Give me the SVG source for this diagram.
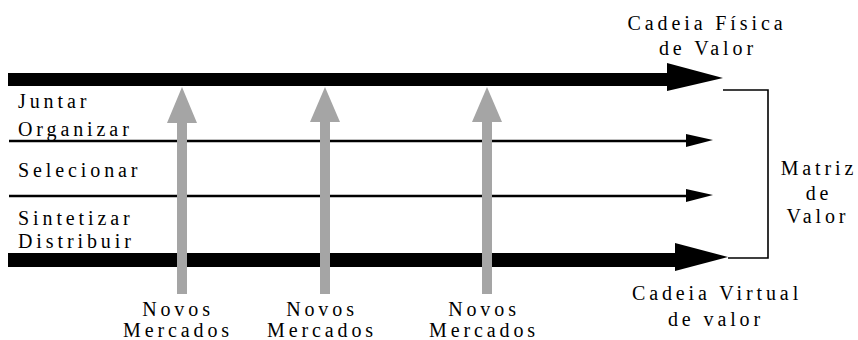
<svg xmlns="http://www.w3.org/2000/svg" width="858" height="340" viewBox="0 0 858 340">
<style>
.t{font-family:'Liberation Serif','Times New Roman',Times,serif;font-size:20px;letter-spacing:3.9px;fill:#000}
.c{text-anchor:middle}
.thick{fill:#000}
.thin{stroke:#000;stroke-width:2.6;fill:none}
.head{fill:#000}
.up{fill:#a5a5a5}
.br{stroke:#000;stroke-width:1.6;fill:none}
</style>
<g id="connectors">
  <g id="fisica-arrow">
    <rect class="thick" x="8" y="73" width="662" height="13"/>
    <polygon class="head" points="667,63 723,78 667,91"/>
  </g>
  <g id="line-organizar">
    <line class="thin" x1="9" y1="141" x2="690" y2="141"/>
    <polygon class="head" points="686,134 713,140 686,147"/>
  </g>
  <g id="line-selecionar">
    <line class="thin" x1="9" y1="196" x2="690" y2="196"/>
    <polygon class="head" points="686,189 713,195 686,202"/>
  </g>
  <g id="virtual-arrow">
    <rect class="thick" x="8" y="253" width="670" height="14"/>
    <polygon class="head" points="675,243 728,257 675,271"/>
  </g>
  <polyline class="br" points="723,90 768,90 768,258 728,258"/>
  <g id="mercado-arrows">
    <polygon class="up" points="182,87 197,123 187,123 187,294 177,294 177,123 167,123"/>
    <polygon class="up" points="325,87 340,122 330,122 330,294 320,294 320,122 310,122"/>
    <polygon class="up" points="487,87 502,122 492,122 492,294 482,294 482,122 472,122"/>
  </g>
</g>
<g id="labels-left">
  <text class="t" x="18" y="108">Juntar</text>
  <text class="t" x="18" y="136">Organizar</text>
  <text class="t" x="18" y="177">Selecionar</text>
  <text class="t" x="18" y="225">Sintetizar</text>
  <text class="t" x="18" y="248">Distribuir</text>
</g>
<g id="node-fisica">
  <text class="t c" x="707" y="30">Cadeia Física</text>
  <text class="t c" x="708" y="55">de Valor</text>
</g>
<g id="node-matriz">
  <text class="t c" x="819" y="175">Matriz</text>
  <text class="t c" x="819" y="200">de</text>
  <text class="t c" x="818" y="223">Valor</text>
</g>
<g id="node-virtual">
  <text class="t c" x="717" y="300">Cadeia Virtual</text>
  <text class="t c" x="716" y="326">de valor</text>
</g>
<g id="node-mercados1">
  <text class="t c" x="178" y="316">Novos</text>
  <text class="t c" x="178" y="337">Mercados</text>
</g>
<g id="node-mercados2">
  <text class="t c" x="322" y="316">Novos</text>
  <text class="t c" x="322" y="337">Mercados</text>
</g>
<g id="node-mercados3">
  <text class="t c" x="484" y="316">Novos</text>
  <text class="t c" x="484" y="337">Mercados</text>
</g>
</svg>
